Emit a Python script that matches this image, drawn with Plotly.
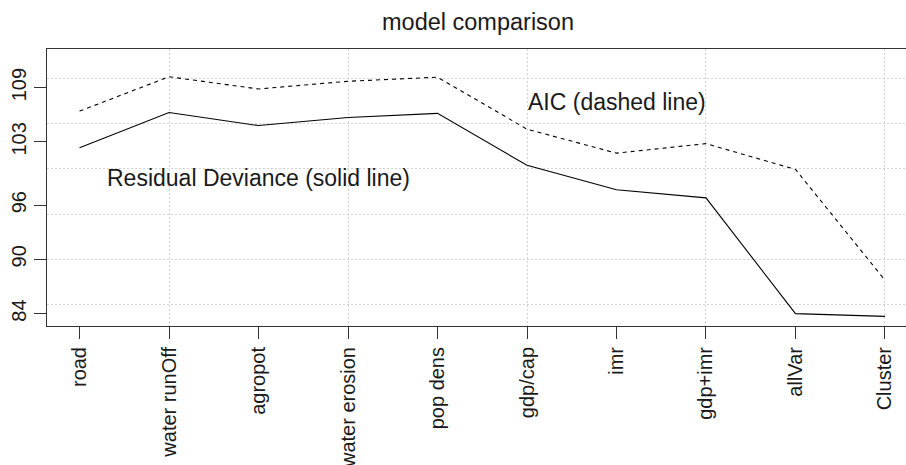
import plotly.graph_objects as go

categories = ["road", "water runOff", "agropot", "water erosion", "pop dens",
              "gdp/cap", "imr", "gdp+imr", "allVar", "Cluster"]
residual_deviance = [102.35, 106.25, 104.8, 105.7, 106.15, 100.4, 97.7, 96.8, 84.0, 83.7]
aic = [106.4, 110.2, 108.85, 109.7, 110.15, 104.4, 101.75, 102.8, 99.95, 87.7]
y_tick_vals = [84, 90, 96, 103, 109]
y_grid_vals = [85, 90, 95, 100, 105, 110]
x_grid_idx = [1, 3, 5, 7, 9]

label_texts = ["Residual Deviance (solid line)", "AIC (dashed line)"]
label_x = [2, 6]
label_y = [99.0, 107.45]

FONT = "Liberation Sans, Arial, Helvetica, sans-serif"
xs = list(range(len(categories)))

fig = go.Figure()
fig.add_trace(go.Scatter(x=xs, y=residual_deviance, mode="lines",
                         line=dict(color="black", width=1.1), showlegend=False))
fig.add_trace(go.Scatter(x=xs, y=aic, mode="lines",
                         line=dict(color="black", width=1.1, dash="4px,4px"), showlegend=False))

for t, x, y in zip(label_texts, label_x, label_y):
    fig.add_annotation(x=x, y=y, text=t, showarrow=False, xanchor="center", yanchor="middle",
                       font=dict(family=FONT, size=23, color="#1a1a1a"))

fig.update_layout(
    width=906, height=465,
    margin=dict(l=47, r=0, t=49, b=139, autoexpand=False),
    paper_bgcolor="white", plot_bgcolor="white",
    title=dict(text="model comparison", x=478 / 906, xanchor="center",
               y=1 - 22 / 465, yanchor="middle", yref="container", automargin=False,
               font=dict(family=FONT, size=23.5, color="#1a1a1a")),
    xaxis=dict(range=[-0.364, 9.235], tickmode="array", tickvals=xs, ticktext=categories,
               tickangle=-90, ticks="outside", ticklen=12, tickwidth=1, tickcolor="#333",
               showline=True, linecolor="#333", linewidth=1, mirror=True,
               showgrid=False, zeroline=False, automargin=False,
               tickfont=dict(family=FONT, size=20, color="#1a1a1a"),
               minor=dict(tickmode="array", tickvals=x_grid_idx, ticks="", showgrid=True,
                          gridcolor="#d3d3d3", gridwidth=1, griddash="2px,2px")),
    yaxis=dict(range=[82.63, 113.27], tickmode="array", tickvals=y_tick_vals,
               tickangle=-90, ticks="outside", ticklen=12, tickwidth=1, tickcolor="#333",
               showline=True, linecolor="#333", linewidth=1, mirror=False,
               showgrid=False, zeroline=False, automargin=False,
               tickfont=dict(family=FONT, size=20, color="#1a1a1a"),
               minor=dict(tickmode="array", tickvals=y_grid_vals, ticks="", showgrid=True,
                          gridcolor="#d3d3d3", gridwidth=1, griddash="2px,2px")),
)

fig.write_html("out.html", config={"displayModeBar": False},
               post_script="document.body.style.margin='0';document.body.style.overflow='hidden';")
